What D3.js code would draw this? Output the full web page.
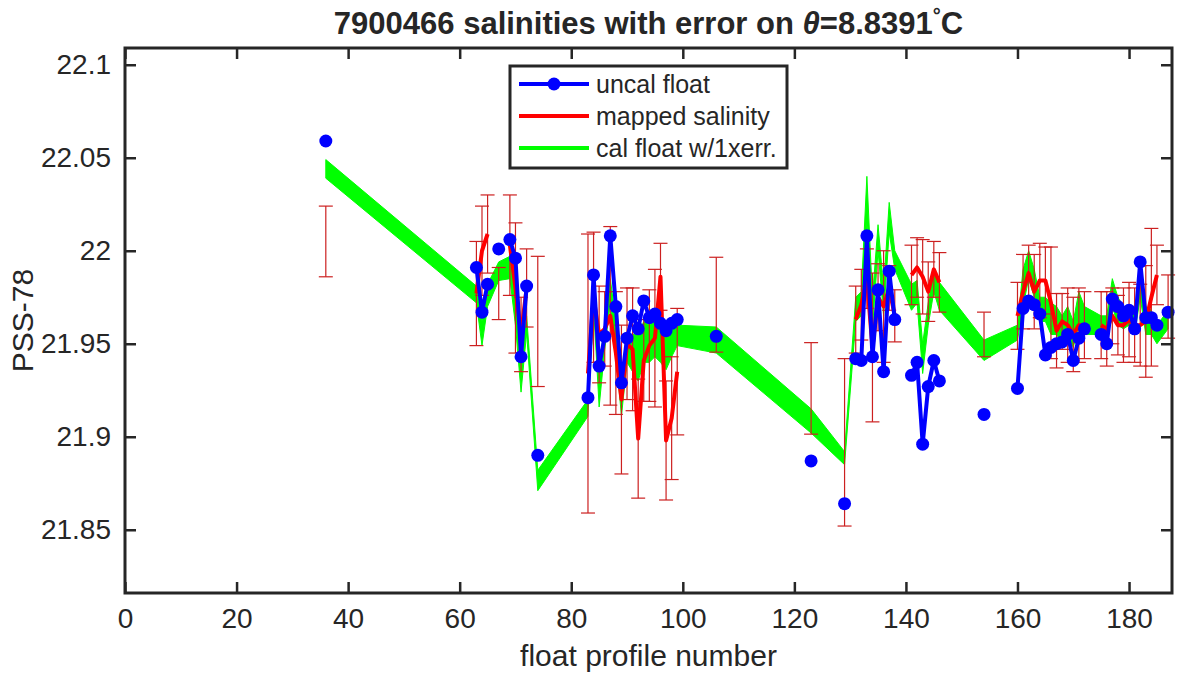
<!DOCTYPE html>
<html>
<head>
<meta charset="utf-8">
<script src="https://cdn.jsdelivr.net/npm/d3@7"></script>
<style>
  body { margin: 0; background: #fff; }
  text { font-family: "Liberation Sans", Arial, Helvetica, sans-serif; fill: #262626; }
</style>
</head>
<body>
<script>
// profile numbers that have a value on this theta level
const profiles = [36,
  63, 64, 65, 67, 69, 70, 71, 72, 74,
  83, 84, 85, 86, 87, 88, 89, 90, 91, 92, 93, 94, 95, 96, 97, 98, 99,
  106, 123, 129,
  131, 132, 133, 134, 135, 136, 137, 138,
  141, 142, 143, 144, 145, 146,
  154,
  160, 161, 162, 163, 164, 165, 166, 167, 168, 169, 170, 171, 172,
  175, 176, 177, 178, 179, 180, 181, 182, 183, 184, 185,
  187];

const uncal = [22.059,
  21.991, 21.967, 21.982, 22.001, 22.006, 21.996, 21.943, 21.981, 21.890,
  21.921, 21.987, 21.938, 21.954, 22.008, 21.970, 21.929, 21.953, 21.965, 21.958, 21.973, 21.964, 21.966, 21.961, 21.957, 21.961, 21.963,
  21.954, 21.887, 21.864,
  21.942, 21.941, 22.008, 21.943, 21.979, 21.935, 21.989, 21.963,
  21.933, 21.940, 21.896, 21.927, 21.941, 21.930,
  21.912,
  21.926, 21.969, 21.973, 21.971, 21.966, 21.944, 21.948, 21.950, 21.951, 21.955, 21.941, 21.953, 21.958,
  21.955, 21.950, 21.974, 21.970, 21.965, 21.968, 21.958, 21.994, 21.964, 21.964, 21.960,
  21.967];

const mapped = [22.005,
  21.977, 22.000, 22.009, 21.977, 22.003, 21.980, 21.955, 21.980, 21.962,
  21.934, 21.975, 21.955, 21.958, 21.965, 21.945, 21.920, 21.950, 21.947, 21.899, 21.941, 21.949, 21.953, 21.986, 21.898, 21.910, 21.935,
  21.971, 21.926, 21.897,
  21.963, 21.971, 21.985, 21.948, 21.975, 21.970, 21.980, 21.965,
  21.987, 21.991, 21.986, 21.978, 21.990, 21.983,
  21.955,
  21.965, 21.978, 21.988, 21.978, 21.984, 21.984, 21.972, 21.957, 21.962, 21.960, 21.955, 21.960, 21.960,
  21.960, 21.958, 21.965, 21.960, 21.960, 21.963, 21.960, 21.960, 21.962, 21.975, 21.987,
  21.970];

const mapErr = [0.019,
  0.028, 0.024, 0.021, 0.014, 0.027, 0.035, 0.020, 0.021, 0.035,
  0.075, 0.035, 0.026, 0.020, 0.048, 0.033, 0.040, 0.030, 0.033, 0.032, 0.022, 0.030, 0.037, 0.018, 0.032, 0.033, 0.034,
  0.0255, 0.0246, 0.045,
  0.018, 0.019, 0.016, 0.040, 0.018, 0.030, 0.012, 0.014,
  0.016, 0.016, 0.020, 0.016, 0.015, 0.016,
  0.012,
  0.018, 0.020, 0.015, 0.020, 0.020, 0.018, 0.030, 0.020, 0.015, 0.020, 0.020, 0.020, 0.018,
  0.018, 0.020, 0.015, 0.016, 0.020, 0.020, 0.020, 0.022, 0.030, 0.037, 0.016,
  0.017];

// cal float minus / plus one error
const calLo = [22.039,
  21.972, 21.949, 21.970, 21.984, 21.985, 21.960, 21.924, 21.956, 21.871,
  21.911, 21.970, 21.916, 21.947, 21.972, 21.945, 21.911, 21.940, 21.935, 21.930, 21.940, 21.940, 21.943, 21.940, 21.936, 21.943, 21.949,
  21.945, 21.902, 21.885,
  21.962, 21.965, 22.015, 21.958, 22.000, 21.965, 22.010, 21.990,
  21.968, 21.972, 21.934, 21.960, 21.978, 21.968,
  21.941,
  21.952, 21.970, 21.985, 21.975, 21.962, 21.962, 21.955, 21.955, 21.950, 21.955, 21.948, 21.960, 21.955,
  21.955, 21.952, 21.970, 21.960, 21.958, 21.960, 21.955, 21.975, 21.955, 21.955, 21.950,
  21.958];

const calHi = [22.049,
  21.981, 21.962, 21.982, 21.994, 21.997, 21.975, 21.940, 21.965, 21.882,
  21.920, 21.982, 21.938, 21.960, 21.985, 21.962, 21.927, 21.952, 21.955, 21.955, 21.962, 21.960, 21.962, 21.958, 21.957, 21.960, 21.960,
  21.959, 21.915, 21.892,
  21.975, 21.978, 22.040, 21.975, 22.014, 21.980, 22.026, 22.000,
  21.982, 21.984, 21.950, 21.972, 21.990, 21.983,
  21.952,
  21.960, 21.990, 22.000, 21.990, 21.975, 21.975, 21.972, 21.970, 21.965, 21.970, 21.962, 21.978, 21.970,
  21.965, 21.965, 21.985, 21.975, 21.970, 21.970, 21.965, 21.990, 21.970, 21.968, 21.960,
  21.968];

const xTicks = [0, 20, 40, 60, 80, 100, 120, 140, 160, 180];
const yTicks = [21.85, 21.9, 21.95, 22, 22.05, 22.1];

const legendItems = [
  { label: "uncal float", color: "#0000ff", marker: true },
  { label: "mapped salinity", color: "#ff0000", marker: false },
  { label: "cal float w/1xerr.", color: "#00ff00", marker: false }
];

const W = 1177, H = 677;
const margin = { top: 48, right: 5, bottom: 84, left: 125 };
const width = W - margin.left - margin.right;
const height = H - margin.top - margin.bottom;

const svg = d3.select("body").append("svg")
    .attr("width", W)
    .attr("height", H);

const g = svg.append("g")
    .attr("transform", `translate(${margin.left},${margin.top})`);

const x = d3.scaleLinear().domain([0, 187.7]).range([0, width]);
const y = d3.scaleLinear().domain([21.816, 22.109]).range([height, 0]);

const rows = profiles.map((p, i) => ({
    p: p, uncal: uncal[i], mapped: mapped[i], err: mapErr[i], lo: calLo[i], hi: calHi[i]
}));

// break lines wherever profile numbers are not consecutive
function runs(data) {
    const out = [];
    let cur = [];
    data.forEach((d, i) => {
        if (i > 0 && d.p - data[i - 1].p > 1) { out.push(cur); cur = []; }
        cur.push(d);
    });
    out.push(cur);
    return out;
}

// green band
const band = d3.area()
    .x(d => x(d.p))
    .y0(d => y(d.lo))
    .y1(d => y(d.hi));

g.append("path")
    .datum(rows)
    .attr("fill", "#00ff00")
    .attr("stroke", "#00ff00")
    .attr("stroke-width", 1)
    .attr("d", band);

// error bars on mapped salinity
const cap = 7;
const bars = g.append("g")
    .attr("stroke", "#cc2020")
    .attr("stroke-width", 1.2);

rows.forEach(d => {
    const cx = x(d.p);
    bars.append("line")
        .attr("x1", cx).attr("x2", cx)
        .attr("y1", y(d.mapped + d.err)).attr("y2", y(d.mapped - d.err));
    bars.append("line")
        .attr("x1", cx - cap).attr("x2", cx + cap)
        .attr("y1", y(d.mapped + d.err)).attr("y2", y(d.mapped + d.err));
    bars.append("line")
        .attr("x1", cx - cap).attr("x2", cx + cap)
        .attr("y1", y(d.mapped - d.err)).attr("y2", y(d.mapped - d.err));
});

const redLine = d3.line().x(d => x(d.p)).y(d => y(d.mapped));
const blueLine = d3.line().x(d => x(d.p)).y(d => y(d.uncal));

runs(rows).forEach(seg => {
    g.append("path")
        .datum(seg)
        .attr("fill", "none")
        .attr("stroke", "#ff0000")
        .attr("stroke-width", 4)
        .attr("stroke-linejoin", "round")
        .attr("d", redLine);
});

runs(rows).forEach(seg => {
    g.append("path")
        .datum(seg)
        .attr("fill", "none")
        .attr("stroke", "#0000ff")
        .attr("stroke-width", 4)
        .attr("stroke-linejoin", "round")
        .attr("d", blueLine);
});

g.selectAll("circle.uncal")
    .data(rows)
    .enter()
    .append("circle")
    .attr("class", "uncal")
    .attr("cx", d => x(d.p))
    .attr("cy", d => y(d.uncal))
    .attr("r", 6.5)
    .attr("fill", "#0000ff");

// axes box with inward ticks on all four sides
const fmt = d => String(d);

const xAxis = g.append("g")
    .attr("transform", `translate(0,${height})`)
    .call(d3.axisBottom(x).tickValues(xTicks).tickFormat(fmt).tickSize(-11).tickPadding(15));
const xTop = g.append("g")
    .call(d3.axisTop(x).tickValues(xTicks).tickFormat("").tickSize(-11));
const yAxis = g.append("g")
    .call(d3.axisLeft(y).tickValues(yTicks).tickFormat(fmt).tickSize(-11).tickPadding(14));
const yRight = g.append("g")
    .attr("transform", `translate(${width},0)`)
    .call(d3.axisRight(y).tickValues(yTicks).tickFormat("").tickSize(-11));

[xAxis, xTop, yAxis, yRight].forEach(a => {
    a.select(".domain").remove();
    a.selectAll(".tick line").attr("stroke", "#262626").attr("stroke-width", 2.5);
    a.selectAll(".tick text")
        .attr("fill", "#262626")
        .style("font-size", "28px")
        .style("font-family", "'Liberation Sans', Arial, Helvetica, sans-serif");
});

g.append("rect")
    .attr("width", width)
    .attr("height", height)
    .attr("fill", "none")
    .attr("stroke", "#262626")
    .attr("stroke-width", 3);

// labels
svg.append("text")
    .attr("x", margin.left + width / 2)
    .attr("y", 666)
    .attr("text-anchor", "middle")
    .style("font-size", "30px")
    .text("float profile number");

svg.append("text")
    .attr("transform", `translate(33,${margin.top + height / 2}) rotate(-90)`)
    .attr("text-anchor", "middle")
    .style("font-size", "30px")
    .text("PSS-78");

const title = svg.append("text")
    .attr("x", margin.left + width / 2)
    .attr("y", 34)
    .attr("text-anchor", "middle")
    .style("font-size", "31px")
    .style("font-weight", "bold")
    .attr("fill", "#000");
title.append("tspan").text("7900466 salinities with error on ");
title.append("tspan").style("font-style", "italic").text("θ");
title.append("tspan").text("=8.8391");
title.append("tspan").attr("dy", -12).style("font-size", "20px").text("°");
title.append("tspan").attr("dy", 12).text("C");

// legend
const lg = svg.append("g").attr("transform", "translate(510,66)");
lg.append("rect")
    .attr("width", 277)
    .attr("height", 102)
    .attr("fill", "#fff")
    .attr("stroke", "#262626")
    .attr("stroke-width", 3);

const item = lg.selectAll("g.item")
    .data(legendItems)
    .enter()
    .append("g")
    .attr("class", "item")
    .attr("transform", (d, i) => `translate(0,${18 + i * 32})`);

item.append("line")
    .attr("x1", 9).attr("x2", 79)
    .attr("stroke", d => d.color)
    .attr("stroke-width", 4);

item.filter(d => d.marker)
    .append("circle")
    .attr("cx", 44)
    .attr("r", 6.5)
    .attr("fill", d => d.color);

item.append("text")
    .attr("x", 86)
    .attr("dy", "0.35em")
    .style("font-size", "25px")
    .attr("fill", "#000")
    .text(d => d.label);
</script>
</body>
</html>
